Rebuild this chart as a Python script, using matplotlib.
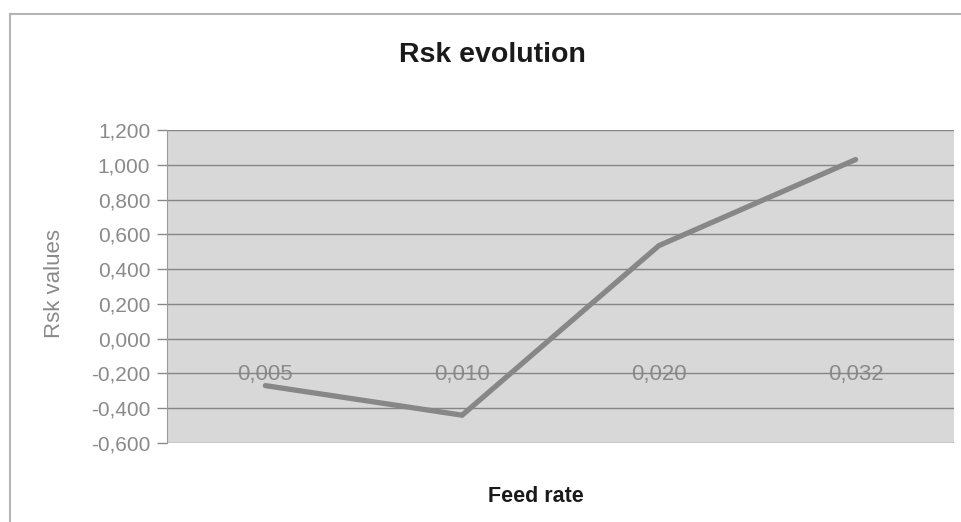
import numpy as np
import matplotlib
matplotlib.use('Agg')
import matplotlib.pyplot as plt
from matplotlib.lines import Line2D

# data
feed_rates = ['0,005', '0,010', '0,020', '0,032']
rsk = [-0.27, -0.44, 0.535, 1.03]
y_ticks = [-0.6, -0.4, -0.2, 0.0, 0.2, 0.4, 0.6, 0.8, 1.0, 1.2]

plt.rcParams['font.family'] = ['Liberation Sans', 'DejaVu Sans']

W, H = 962, 522


def fmt(v):
    return ('%.3f' % v).replace('.', ',').replace('-0,000', '0,000')


def main():
    fig = plt.figure(figsize=(W / 100, H / 100), dpi=100)
    fig.patch.set_facecolor('white')

    # chart frame (left and top edges visible in the scan)
    fig.add_artist(Line2D([10 / W, 10 / W], [0, 1 - 14 / H], transform=fig.transFigure,
                          color='#b4b4b4', lw=1.5))
    fig.add_artist(Line2D([10 / W, 1], [1 - 14 / H, 1 - 14 / H], transform=fig.transFigure,
                          color='#b4b4b4', lw=1.5))

    left, right, top, bottom = 167, 954, 130, 443
    ax = fig.add_axes([left / W, 1 - bottom / H, (right - left) / W, (bottom - top) / H])
    ax.set_facecolor('#d8d8d8')

    x = np.arange(len(feed_rates))
    ax.plot(x, rsk, color='#878787', lw=3.8, solid_capstyle='round',
            solid_joinstyle='miter', zorder=3)

    ax.set_xlim(-0.5, len(feed_rates) - 0.5)
    ax.set_ylim(-0.6, 1.2)
    ax.set_yticks(y_ticks)
    ax.set_yticklabels([fmt(v) for v in y_ticks], color='#8a8a8a', fontsize=15)
    ax.yaxis.grid(True, color='#858585', lw=1)
    ax.set_axisbelow(True)
    ax.tick_params(axis='y', direction='out', length=7, width=1, color='#8a8a8a', pad=5)

    # category axis crosses at zero
    ax.spines['bottom'].set_position(('data', 0))
    ax.spines['bottom'].set_visible(False)
    ax.spines['top'].set_visible(False)
    ax.spines['right'].set_visible(False)
    ax.spines['left'].set_color('#9a9a9a')
    ax.set_xticks(x)
    ax.set_xticklabels(feed_rates, color='#8a8a8a', fontsize=16)
    ax.tick_params(axis='x', length=0, pad=18)

    fig.text(492 / W, 1 - 55 / H, 'Rsk evolution', ha='center', va='center',
             fontsize=20.5, fontweight='bold', color='#1a1a1a')
    fig.text(536 / W, 1 - 497 / H, 'Feed rate', ha='center', va='center',
             fontsize=15.5, fontweight='bold', color='#1a1a1a')
    fig.text(55 / W, 1 - 284 / H, 'Rsk values', ha='center', va='center', rotation=90,
             fontsize=16, color='#8a8a8a')

    fig.savefig('out.png', dpi=100)


if __name__ == '__main__':
    main()
